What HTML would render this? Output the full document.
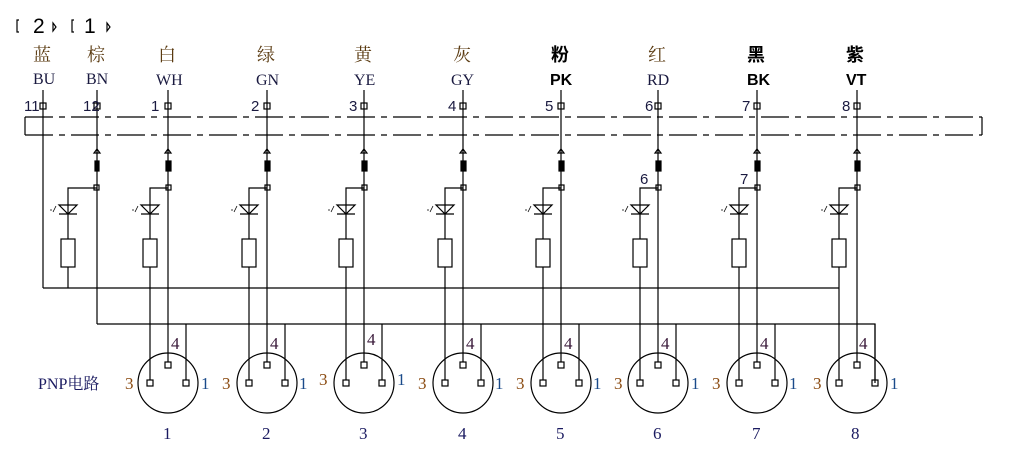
<!DOCTYPE html>
<html><head><meta charset="utf-8">
<style>
html,body{margin:0;padding:0;background:#fff;}
svg{display:block;}
.s{font-family:"Liberation Serif","Noto Serif CJK SC",serif;}
.a{font-family:"Liberation Sans","Noto Sans CJK SC",sans-serif;}
</style></head><body>
<svg id="g" width="1023" height="463" viewBox="0 0 1023 463" xmlns="http://www.w3.org/2000/svg">
<g fill="none" stroke="#000" stroke-width="1.2">
<path d="M19 20 H17 V32 H19 M53 23 L56 27 L53 31 Z M74 20 H72 V32 H74 M107 23 L110 27 L107 31 Z"/>
<line x1="25" y1="117" x2="25" y2="135"/>
<line x1="982" y1="117" x2="982" y2="135"/>
<line x1="25" y1="117" x2="982" y2="117" stroke-dasharray="28 6 6 6"/>
<line x1="25" y1="135" x2="982" y2="135" stroke-dasharray="28 6 6 6"/>
<line x1="43" y1="90" x2="43" y2="288"/>
<line x1="97" y1="90" x2="97" y2="324"/>
<rect x="40" y="103" width="6" height="6"/>
<rect x="94" y="103" width="6" height="6"/>
<line x1="43" y1="288" x2="839" y2="288"/>
<polyline points="97,324 875,324 875,383"/>
</g>
<text class="a" font-size="21" x="33" y="33" fill="#000" font-weight="normal">2</text>
<text class="a" font-size="21" x="84" y="33" fill="#000">1</text>
<g id="ch" fill="none" stroke="#000" stroke-width="1.2"></g>
<g class="s" font-size="18" fill="#5a3a10">
<text x="33" y="61">蓝</text><text x="87" y="61">棕</text><text x="158" y="61">白</text><text x="257" y="61">绿</text><text x="354" y="61">黄</text><text x="453" y="61">灰</text><text x="648" y="61">红</text>
</g>
<g class="a" font-size="18" fill="#000" font-weight="bold">
<text x="551" y="61">粉</text><text x="747" y="61">黑</text><text x="846" y="61">紫</text>
</g>
<g class="s" font-size="16" fill="#1a1a40">
<text x="33" y="84">BU</text><text x="86" y="84">BN</text><text x="156" y="85">WH</text><text x="256" y="85">GN</text><text x="354" y="85">YE</text><text x="451" y="85">GY</text><text x="647" y="85">RD</text>
</g>
<g class="a" font-size="16" fill="#000" font-weight="bold">
<text x="550" y="85">PK</text><text x="747" y="85">BK</text><text x="846" y="85">VT</text>
</g>
<g class="a" font-size="15" fill="#1a1a40">
<text x="24" y="111">11</text><text x="83" y="111">12</text><text x="151" y="111">1</text><text x="251" y="111">2</text><text x="349" y="111">3</text><text x="448" y="111">4</text><text x="545" y="111">5</text><text x="645" y="111">6</text><text x="742" y="111">7</text><text x="842" y="111">8</text>
<text x="640" y="184">6</text><text x="740" y="184">7</text>
</g>
<text class="s" font-size="16" x="38" y="389" fill="#1a1a60">PNP电路</text>
<g class="s" font-size="17" fill="#1a1a60">
<text x="163" y="439">1</text><text x="262" y="439">2</text><text x="359" y="439">3</text><text x="458" y="439">4</text><text x="556" y="439">5</text><text x="653" y="439">6</text><text x="752" y="439">7</text><text x="851" y="439">8</text>
</g>
<g class="s" font-size="17">
<text x="125" y="389" fill="#8a4a10">3</text><text x="201" y="389" fill="#1a4a8a">1</text><text x="171" y="349" fill="#3a1a3a">4</text>
<text x="222" y="389" fill="#8a4a10">3</text><text x="299" y="389" fill="#1a4a8a">1</text><text x="270" y="349" fill="#3a1a3a">4</text>
<text x="319" y="385" fill="#8a4a10">3</text><text x="397" y="385" fill="#1a4a8a">1</text><text x="367" y="345" fill="#3a1a3a">4</text>
<text x="418" y="389" fill="#8a4a10">3</text><text x="495" y="389" fill="#1a4a8a">1</text><text x="466" y="349" fill="#3a1a3a">4</text>
<text x="516" y="389" fill="#8a4a10">3</text><text x="593" y="389" fill="#1a4a8a">1</text><text x="564" y="349" fill="#3a1a3a">4</text>
<text x="614" y="389" fill="#8a4a10">3</text><text x="691" y="389" fill="#1a4a8a">1</text><text x="661" y="349" fill="#3a1a3a">4</text>
<text x="712" y="389" fill="#8a4a10">3</text><text x="789" y="389" fill="#1a4a8a">1</text><text x="760" y="349" fill="#3a1a3a">4</text>
<text x="813" y="389" fill="#8a4a10">3</text><text x="890" y="389" fill="#1a4a8a">1</text><text x="859" y="349" fill="#3a1a3a">4</text>
</g>
</svg>
<script>
var g=document.getElementById('ch'),h='';
function led(x,top,bx){
 h+='<polyline points="'+bx+','+top+' '+x+','+top+' '+x+',239"/>';
 h+='<path d="M'+(x-9)+' 205 H'+(x+9)+' L'+x+' 214 Z M'+(x-9)+' 214 H'+(x+9)+'"/>';
 h+='<path d="M'+(x-15)+' 212 L'+(x-12)+' 206 M'+(x-18)+' 210 h2" stroke-width="0.8"/>';
 h+='<rect x="'+(x-7)+'" y="239" width="14" height="28"/>';
}
led(68,188,97);
h+='<line x1="68" y1="267" x2="68" y2="288"/>';
h+='<path d="M97 149 l-3 4 h6 z"/><rect x="95" y="161" width="4" height="10" fill="#000"/><rect x="94" y="185" width="5" height="5"/>';
var xs=[168,267,364,463,561,658,757,857];
xs.forEach(function(x){
 h+='<line x1="'+x+'" y1="90" x2="'+x+'" y2="362"/>';
 h+='<rect x="'+(x-3)+'" y="103" width="6" height="6"/>';
 h+='<path d="M'+x+' 149 l-3 4 h6 z"/><rect x="'+(x-2)+'" y="161" width="5" height="10" fill="#000"/><rect x="'+(x-2)+'" y="185" width="5" height="5"/>';
 var lx=x-18,rx=x+18;
 led(lx,188,x);
 h+='<line x1="'+lx+'" y1="267" x2="'+lx+'" y2="380"/>';
 h+='<line x1="'+rx+'" y1="324" x2="'+rx+'" y2="380"/>';
 h+='<circle cx="'+x+'" cy="383" r="30"/>';
 h+='<rect x="'+(x-3)+'" y="362" width="6" height="6"/><rect x="'+(lx-3)+'" y="380" width="6" height="6"/><rect x="'+(rx-3)+'" y="380" width="6" height="6"/>';
});
g.innerHTML=h;
</script>
</body></html>
